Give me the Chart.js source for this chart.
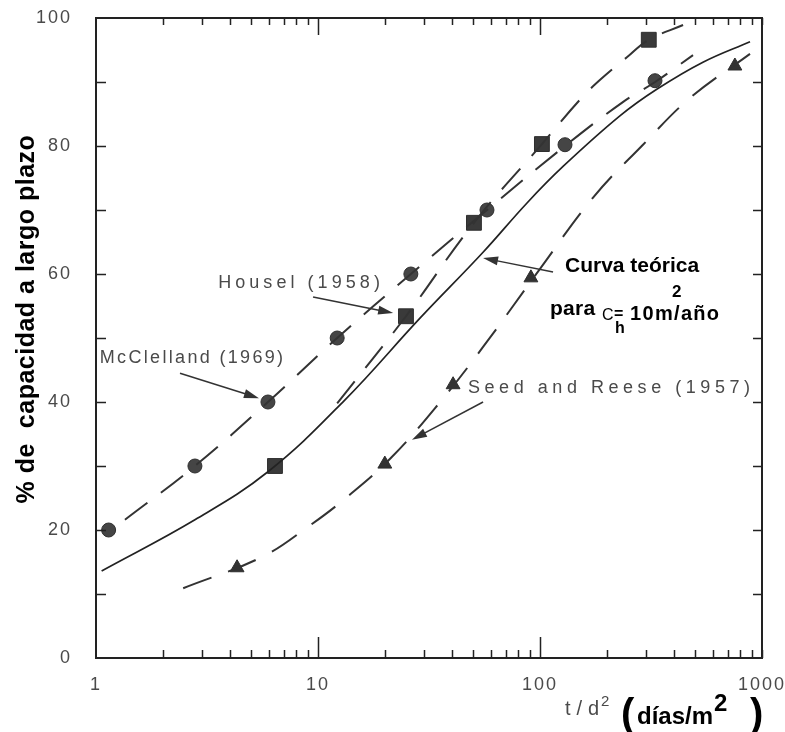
<!DOCTYPE html>
<html>
<head>
<meta charset="utf-8">
<script src="https://cdn.jsdelivr.net/npm/chart.js@4.4.1/dist/chart.umd.min.js"></script>
<style>
html,body{margin:0;padding:0;background:#fff;}
canvas{display:block;}
</style>
</head>
<body>
<canvas id="c" width="785" height="732"></canvas>
<script>
// ---------------- data ----------------
const xTickValues = [1, 10, 100, 1000];
const yTickValues = [0, 20, 40, 60, 80, 100];

// measured points
const mcclellandX = [1.14, 2.79, 5.95, 12.2, 26.2, 57.7, 129.6, 329.6];
const mcclellandY = [20, 30, 40, 50, 60, 70, 80.2, 90.2];
const houselX = [6.4, 24.9, 50.4, 102, 309];
const houselY = [30, 53.4, 68, 80.3, 96.6];
const seedX = [4.32, 20, 40.6, 91, 755];
const seedY = [14.1, 30.3, 42.7, 59.4, 92.5];

// curves
const theoryX = [1.06, 2.79, 5.95, 13.2, 28.8, 55.4, 87.4, 127, 229, 337, 542, 883];
const theoryY = [13.6, 21.6, 29.1, 40.3, 53.1, 63.4, 71.1, 76.8, 84.7, 88.9, 93.1, 96.3];
const mcclellandFitX = [1.35, 2.79, 5.95, 12.2, 26.2, 57.7, 129.6, 237, 330, 489];
const mcclellandFitY = [21.6, 30, 40, 50, 60, 70, 80, 86.9, 90, 94.2];
const houselFitX = [12.2, 24.9, 50.4, 102, 151, 186, 247, 309, 441];
const houselFitY = [39.8, 53.4, 68, 80.3, 87.2, 90.3, 93.9, 96.6, 98.9];
const seedFitX = [2.47, 5.6, 9.02, 13.9, 21.5, 35.5, 55.4, 100, 173, 291, 474, 883];
const seedFitY = [10.9, 15.8, 20.5, 25.5, 31.4, 40, 48.6, 60.8, 71.9, 80.2, 87.5, 94.4];

// annotation texts (anchored in data coordinates)
const labelTexts = ['Housel (1958)', 'McClelland (1969)', 'Seed and Reese (1957)'];
const labelLeftX = [3.55, 1.04, 47.4];
const labelRightX = [19.0, 6.96, 883];
const labelY = [58.6, 46.9, 42.2];
const arrowFrom = [[9.5, 56.4], [2.39, 44.5], [55.4, 40], [114.5, 60.3]];
const arrowTo = [[21.8, 53.9], [5.42, 40.6], [26.5, 34.1], [55.4, 62.5]];
const curveLabel = {text: 'Curva teórica', x: 129.6, y: 61.25};
const paraLabel = {x: 111, y: 54.5};

// ---------------- chart ----------------
const FONT = '"Liberation Sans", Arial, Helvetica, sans-serif';
function pts(xs, ys) { return xs.map((x, i) => ({x: x, y: ys[i]})); }

function drawFit(ctx, text, x, y, targetW) {
  ctx.letterSpacing = '0px';
  const w = ctx.measureText(text).width;
  const n = text.length;
  const s = n > 1 ? Math.max(0, (targetW - w) / (n - 1)) : 0;
  ctx.letterSpacing = s + 'px';
  ctx.fillText(text, x, y);
  ctx.letterSpacing = '0px';
}

function arrow(ctx, x1, y1, x2, y2) {
  const ang = Math.atan2(y2 - y1, x2 - x1);
  const L = 15, W = 4.5;
  ctx.beginPath();
  ctx.moveTo(x1, y1);
  ctx.lineTo(x2 - Math.cos(ang) * L * 0.8, y2 - Math.sin(ang) * L * 0.8);
  ctx.stroke();
  ctx.beginPath();
  ctx.moveTo(x2, y2);
  ctx.lineTo(x2 - Math.cos(ang) * L - Math.sin(ang) * W, y2 - Math.sin(ang) * L + Math.cos(ang) * W);
  ctx.lineTo(x2 - Math.cos(ang) * L + Math.sin(ang) * W, y2 - Math.sin(ang) * L - Math.cos(ang) * W);
  ctx.closePath();
  ctx.fill();
}

const spacingPlugin = {
  id: 'spacing',
  beforeDraw(chart) { chart.ctx.letterSpacing = '2px'; },
  afterDatasetsDraw(chart) { chart.ctx.letterSpacing = '0px'; }
};

const framePlugin = {
  id: 'frame',
  afterDatasetsDraw(chart) {
    const {ctx, chartArea: a, scales: {x, y}} = chart;
    ctx.save();
    ctx.letterSpacing = '0px';
    ctx.strokeStyle = '#222';
    ctx.lineWidth = 2;
    ctx.strokeRect(a.left, a.top, a.right - a.left, a.bottom - a.top);
    ctx.lineWidth = 1.5;
    ctx.beginPath();
    for (let d = 1; d < 1000; d *= 10) {
      for (let m = 2; m <= 10; m++) {
        const px = Math.round(x.getPixelForValue(d * m)) + 0.5;
        const major = (m === 10 && d * m < 1000);
        const lb = major ? 21 : 8, lt = major ? 17 : 7;
        ctx.moveTo(px, a.bottom); ctx.lineTo(px, a.bottom - lb);
        ctx.moveTo(px, a.top); ctx.lineTo(px, a.top + lt);
      }
    }
    for (let v = 10; v < 100; v += 10) {
      const py = Math.round(y.getPixelForValue(v)) + 0.5;
      ctx.moveTo(a.left, py); ctx.lineTo(a.left + 10, py);
      ctx.moveTo(a.right, py); ctx.lineTo(a.right - 9, py);
    }
    ctx.stroke();
    ctx.restore();
  }
};

const annotPlugin = {
  id: 'annot',
  afterDraw(chart) {
    const {ctx, scales: {x, y}, chartArea: a} = chart;
    ctx.save();
    ctx.letterSpacing = '0px';
    // grey annotation labels
    ctx.fillStyle = '#4a4a4a';
    ctx.font = '18px ' + FONT;
    ctx.textBaseline = 'middle';
    ctx.textAlign = 'left';
    labelTexts.forEach((t, i) => {
      const x0 = x.getPixelForValue(labelLeftX[i]);
      const x1 = x.getPixelForValue(labelRightX[i]);
      drawFit(ctx, t, x0, y.getPixelForValue(labelY[i]), x1 - x0);
    });
    // arrows
    ctx.strokeStyle = '#333';
    ctx.fillStyle = '#333';
    ctx.lineWidth = 1.5;
    arrowFrom.forEach((f, i) => {
      arrow(ctx, x.getPixelForValue(f[0]), y.getPixelForValue(f[1]),
        x.getPixelForValue(arrowTo[i][0]), y.getPixelForValue(arrowTo[i][1]));
    });
    // bold black "Curva teórica para Ch = 10 m2/año"
    ctx.fillStyle = '#000';
    ctx.font = 'bold 21px ' + FONT;
    drawFit(ctx, curveLabel.text, x.getPixelForValue(curveLabel.x), y.getPixelForValue(curveLabel.y), 134);
    const px = x.getPixelForValue(paraLabel.x), py = y.getPixelForValue(paraLabel.y);
    drawFit(ctx, 'para', px, py, 45);
    ctx.font = '16px ' + FONT;
    ctx.fillText('C', px + 52, py + 6);
    ctx.font = 'bold 16px ' + FONT;
    ctx.fillText('=', px + 64, py + 5);
    ctx.fillText('h', px + 65, py + 19);
    ctx.font = 'bold 20px ' + FONT;
    drawFit(ctx, '10m/año', px + 80, py + 5, 89);
    ctx.font = 'bold 17px ' + FONT;
    ctx.fillText('2', px + 122, py - 17);

    // y-axis title
    ctx.save();
    ctx.translate(27, (a.top + a.bottom) / 2 - 19);
    ctx.rotate(-Math.PI / 2);
    ctx.textAlign = 'center';
    ctx.font = 'bold 25px ' + FONT;
    ctx.letterSpacing = '0.5px';
    ctx.fillText('% de  capacidad a largo plazo', 0, 0);
    ctx.restore();
    ctx.letterSpacing = '0px';

    // x-axis title
    const tx = a.right - 197;
    ctx.textBaseline = 'alphabetic';
    ctx.textAlign = 'left';
    ctx.fillStyle = '#4a4a4a';
    ctx.font = '20px ' + FONT;
    drawFit(ctx, 't/d', tx, 715, 34);
    ctx.font = '15px ' + FONT;
    ctx.fillText('2', tx + 36, 706);
    ctx.fillStyle = '#000';
    ctx.font = 'bold 40px ' + FONT;
    ctx.fillText('(', tx + 56, 727);
    ctx.fillText(')', tx + 185, 727);
    ctx.font = 'bold 24px ' + FONT;
    drawFit(ctx, 'días/m', tx + 72, 724, 76);
    ctx.fillText('2', tx + 149, 711);
    ctx.restore();
  }
};

new Chart(document.getElementById('c'), {
  type: 'scatter',
  data: {
    datasets: [
      {label: 'Curva teórica', data: pts(theoryX, theoryY), showLine: true,
        borderColor: '#222', borderWidth: 1.7, pointRadius: 0, tension: 0.4},
      {label: 'McClelland ajuste', data: pts(mcclellandFitX, mcclellandFitY), showLine: true,
        borderColor: '#333', borderWidth: 2, borderDash: [28, 17], pointRadius: 0, tension: 0.4},
      {label: 'Housel ajuste', data: pts(houselFitX, houselFitY), showLine: true,
        borderColor: '#333', borderWidth: 2, borderDash: [28, 17], pointRadius: 0, tension: 0.4},
      {label: 'Seed ajuste', data: pts(seedFitX, seedFitY), showLine: true,
        borderColor: '#333', borderWidth: 2, borderDash: [30, 18], pointRadius: 0, tension: 0.4},
      {label: 'McClelland (1969)', data: pts(mcclellandX, mcclellandY), pointStyle: 'circle',
        pointRadius: 7, backgroundColor: '#454545', borderColor: '#2e2e2e', borderWidth: 1},
      {label: 'Housel (1958)', data: pts(houselX, houselY), pointStyle: 'rect',
        pointRadius: 10.5, backgroundColor: '#3a3a3a', borderColor: '#2e2e2e', borderWidth: 1},
      {label: 'Seed and Reese (1957)', data: pts(seedX, seedY), pointStyle: 'triangle',
        pointRadius: 8, backgroundColor: '#333', borderColor: '#2e2e2e', borderWidth: 1}
    ]
  },
  options: {
    responsive: false,
    animation: false,
    layout: {autoPadding: false, padding: {left: 0, right: 23, top: 18, bottom: 0}},
    plugins: {legend: {display: false}, tooltip: {enabled: false}},
    scales: {
      x: {
        type: 'logarithmic', min: 1, max: 1000,
        grid: {display: false, drawTicks: false},
        border: {display: false},
        afterBuildTicks: s => { s.ticks = xTickValues.map(v => ({value: v})); },
        afterFit: s => { s.height = 74; s.paddingLeft = 0; s.paddingRight = 0; },
        ticks: {autoSkip: false, maxRotation: 0, padding: 16, color: '#4a4a4a',
          font: {family: FONT, size: 18}, callback: v => String(v)}
      },
      y: {
        type: 'linear', min: 0, max: 100,
        grid: {display: false, drawTicks: false},
        border: {display: false},
        afterBuildTicks: s => { s.ticks = yTickValues.map(v => ({value: v})); },
        afterFit: s => { s.width = 96; s.paddingTop = 0; s.paddingBottom = 0; },
        ticks: {padding: 24, color: '#4a4a4a', font: {family: FONT, size: 18}, callback: v => String(v)}
      }
    }
  },
  plugins: [spacingPlugin, framePlugin, annotPlugin]
});
</script>
</body>
</html>
